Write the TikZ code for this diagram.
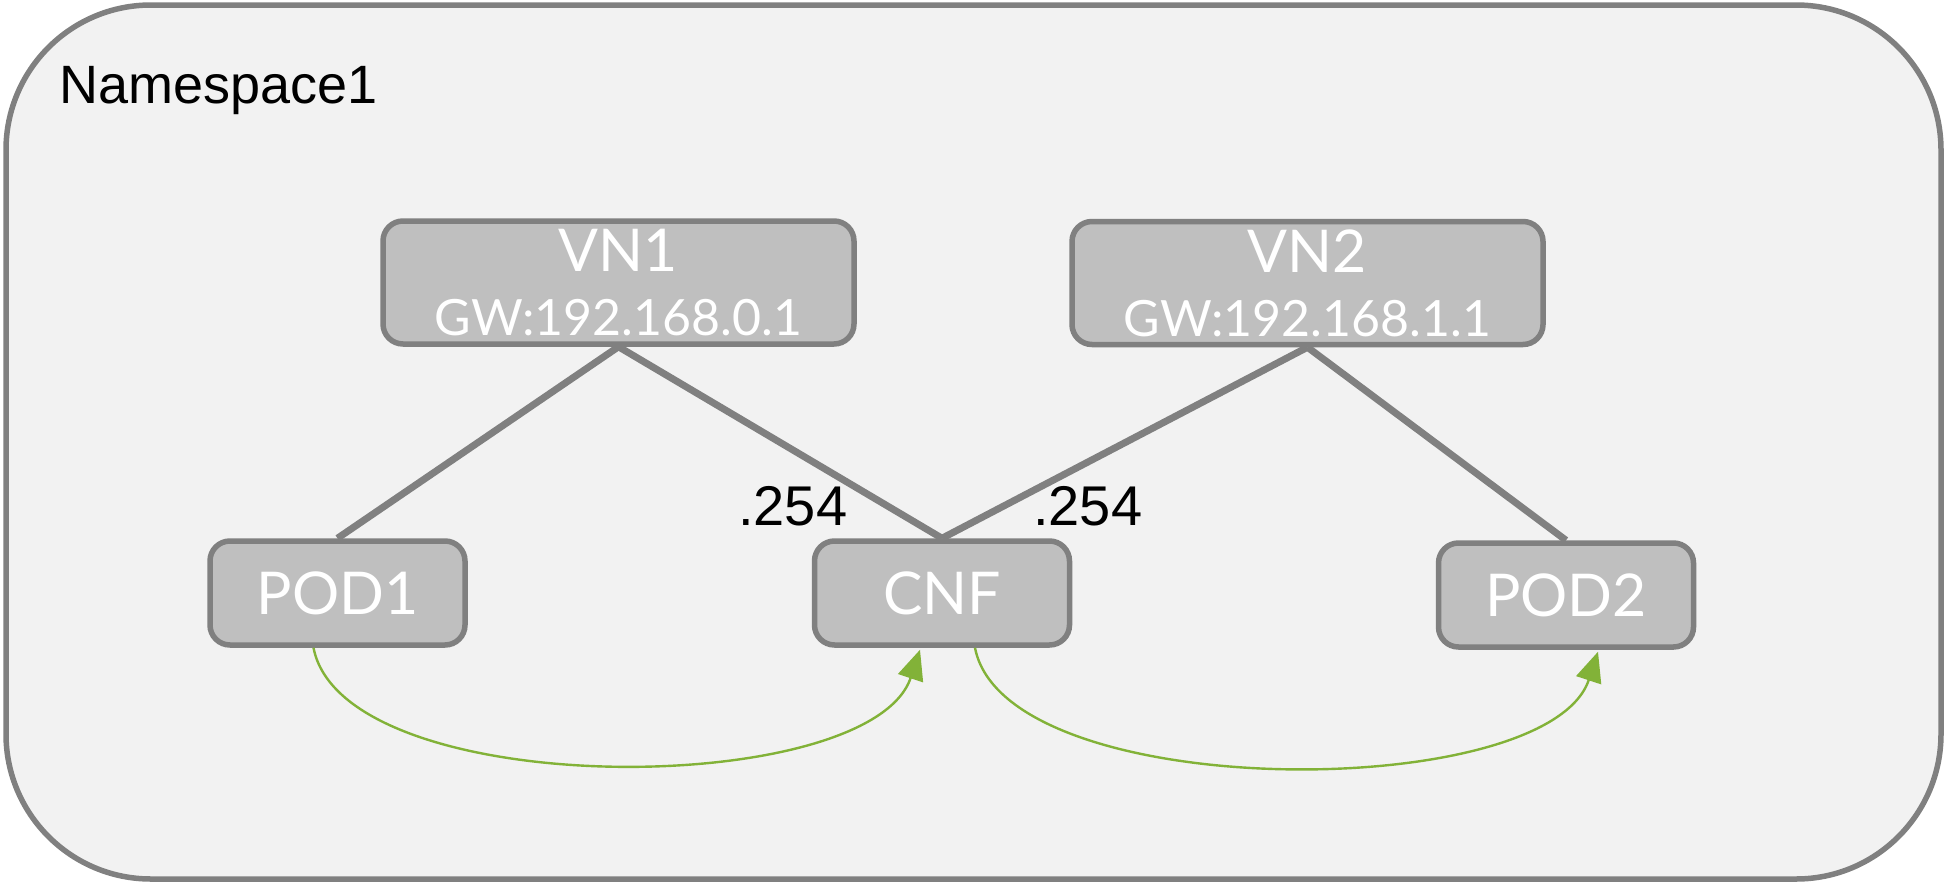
\documentclass[tikz,border=0pt]{standalone}
\usepackage{fontspec}
\setmainfont{Liberation Sans}
\newfontfamily\lato{Lato}
\usetikzlibrary{arrows.meta,calc}
\definecolor{bgc}{RGB}{242,242,242}
\definecolor{edgec}{RGB}{128,128,128}
\definecolor{boxc}{RGB}{191,191,191}
\definecolor{greenc}{RGB}{130,178,56}
\begin{document}
\begin{tikzpicture}[x=1pt,y=-1pt,
  box/.style={draw=edgec,fill=boxc,line width=5.5pt,rounded corners=20pt,
    minimum width=255pt,minimum height=104pt,inner sep=0pt,
    text=white,align=center,font=\lato\fontsize{59}{64}\selectfont},
  vnbox/.style={box,minimum width=471pt,minimum height=123pt},
  link/.style={draw=edgec,line width=7pt},
  flow/.style={draw=greenc,line width=2.4pt,-{Triangle[length=30pt,width=26pt]},fill=none},
  lbl/.style={font=\fontsize{56}{60}\selectfont,inner sep=0pt,anchor=base west}
]
\useasboundingbox (0,0) rectangle (1947,884);
\draw[draw=edgec,fill=bgc,line width=5.5pt,rounded corners=145pt] (6,5) rectangle (1941,879);
\node[lbl,font=\fontsize{54}{60}\selectfont] (ns) at (59,103) {Namespace1};

\node[vnbox] (vn1) at (618.5,282.5) {VN1\\{\fontsize{50}{64}\selectfont GW:192.168.0.1}};
\node[vnbox] (vn2) at (1307.5,283) {VN2\\{\fontsize{50}{64}\selectfont GW:192.168.1.1}};
\node[box] (pod1) at (337.5,593) {POD1};
\node[box] (cnf) at (942,593) {CNF};
\node[box] (pod2) at (1566,595) {POD2};

\draw[link] (vn1.south) -- (pod1.north);
\draw[link] (vn1.south) -- (cnf.north);
\draw[link] (vn2.south) -- (cnf.north);
\draw[link] (vn2.south) -- (pod2.north);

\node[lbl] (l1) at (738,525) {.254};
\node[lbl] (l2) at (1033,525) {.254};

\coordinate (s1) at ($(pod1.south)+(-24,0)$);
\coordinate (e1) at ($(cnf.south)+(-22,2)$);
\coordinate (s2) at ($(cnf.south)+(33,0)$);
\coordinate (e2) at ($(pod2.south)+(32,2)$);
\draw[flow] (s1) .. controls ($(s1)+(30,155)$) and ($(e1)+(-50,150)$) .. (e1);
\draw[flow] (s2) .. controls ($(s2)+(30,157)$) and ($(e2)+(-50,152)$) .. (e2);
\end{tikzpicture}
\end{document}
